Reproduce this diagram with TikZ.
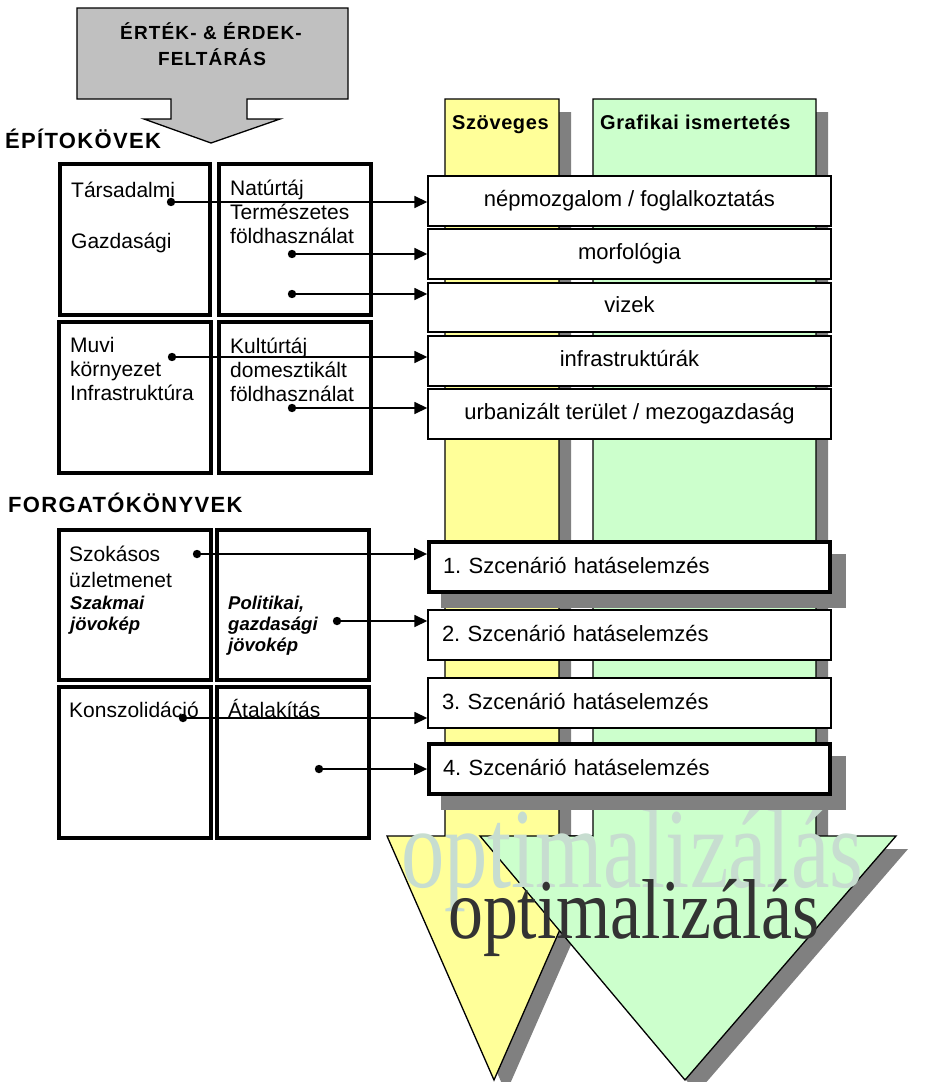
\documentclass[tikz,border=0pt]{standalone}
\usepackage{fontspec}
\setmainfont{Liberation Sans}
\newfontfamily\headfont{Liberation Sans}[LetterSpace=6]
\newfontfamily\colfont{Liberation Sans}[LetterSpace=3]
\newfontfamily\optfont{Liberation Serif}
\usetikzlibrary{arrows.meta}

\definecolor{colYellow}{HTML}{FFFF99}
\definecolor{colGreen}{HTML}{CCFFCC}
\definecolor{colShadow}{HTML}{808080}
\definecolor{colArrowGray}{HTML}{C0C0C0}
\definecolor{colOptLight}{HTML}{C7DDD0}
\definecolor{colOptDark}{HTML}{333333}

\begin{document}
\frenchspacing
\begin{tikzpicture}[x=1pt,y=-1pt,
  edgeline/.style={draw=black, line width=1.3pt, line join=miter},
  bigbox/.style={draw, line width=3.8pt, inner sep=0pt, minimum width=152pt, minimum height=151pt},
  infobox/.style={draw, fill=white, line width=1.4pt, minimum width=403pt, minimum height=50pt,
    inner sep=0pt, text height=15pt, text depth=5pt, font=\fontsize{22}{24}\selectfont},
  scenbox/.style={draw, fill=white, line width=1.4pt, minimum height=50pt, text width=375pt,
    inner xsep=14pt, inner ysep=0pt, align=left, text height=16pt, text depth=4pt,
    font=\fontsize{22}{24}\selectfont},
  scenbold/.style={scenbox, line width=3.8pt, text width=373pt},
  % multi-line labels are anchored at the baseline of their last line
  ltext/.style={anchor=base west, inner sep=0pt, align=left, font=\fontsize{21}{24}\selectfont},
  ltextbi/.style={anchor=base west, inner sep=0pt, align=left, font=\fontsize{18.5}{21}\selectfont\bfseries\itshape},
  heading/.style={anchor=base west, inner sep=0pt, font=\headfont\bfseries\fontsize{22}{24}\selectfont},
  colhead/.style={anchor=base west, inner sep=0pt, font=\colfont\bfseries\fontsize{20}{22}\selectfont},
  conn/.style={line width=1.6pt, -{Triangle[length=13pt,width=12pt]}},
]
\useasboundingbox (0,0) rectangle (934,1082);

% ---- yellow column with its arrow head ----
\fill[colShadow, shift={(12,13)}] (445,99) -- (559,99) -- (559,836) -- (601,836) -- (494,1080)
  -- (387,836) -- (445,836) -- cycle;
\path[edgeline, fill=colYellow] (445,99) -- (559,99) -- (559,836) -- (601,836) -- (494,1080)
  -- (387,836) -- (445,836) -- cycle;

% ---- green column with its arrow head ----
\fill[colShadow, shift={(12,13)}] (593,99) -- (816,99) -- (816,836) -- (896,836) -- (685,1080)
  -- (480,836) -- (593,836) -- cycle;
\path[edgeline, fill=colGreen] (593,99) -- (816,99) -- (816,836) -- (896,836) -- (685,1080)
  -- (480,836) -- (593,836) -- cycle;

\node[colhead] (hSz) at (452,129) {Szöveges};
\node[colhead] (hGr) at (600,129) {Grafikai ismertetés};

% ---- optimisation caption ----
\node[anchor=base west, inner sep=0pt, xscale=0.76, text=colOptLight,
  font=\optfont\fontsize{114}{114}\selectfont] (optA) at (401,887) {optimalizálás};
\node[anchor=base west, inner sep=0pt, xscale=0.82, text=colOptDark,
  font=\optfont\fontsize{85}{85}\selectfont] (optB) at (448,938) {optimalizálás};

% ---- top grey arrow ----
\path[edgeline, fill=colArrowGray] (77,8) -- (348,8) -- (348,99) -- (247,99) -- (247,119)
  -- (280,119) -- (211,143) -- (144,119) -- (171,119) -- (171,99) -- (77,99) -- cycle;
\node[anchor=base, inner sep=0pt, font=\headfont\bfseries\fontsize{19}{21}\selectfont] (tA) at (211,39) {ÉRTÉK- \& ÉRDEK-};
\node[anchor=base, inner sep=0pt, font=\headfont\bfseries\fontsize{19}{21}\selectfont] (tB) at (212,65) {FELTÁRÁS};

% ---- section headings ----
\node[heading] (hE) at (5,148) {ÉPÍTOKÖVEK};
\node[heading] (hF) at (8,512) {FORGATÓKÖNYVEK};

% ---- building blocks ----
\node[bigbox, minimum width=150pt] (bTL) at (135,239.5) {};
\node[bigbox] (bTR) at (295,239.5) {};
\node[bigbox] (bBL) at (135,397.5) {};
\node[bigbox] (bBR) at (295,397.5) {};

\node[ltext] (tTars) at (71,197) {Társadalmi};
\node[ltext] (tGazd) at (71,248) {Gazdasági};
\node[ltext] (tNat) at (230,243) {Natúrtáj\\Természetes\\földhasználat};
\node[ltext] (tMuvi) at (70,400) {Muvi\\környezet\\Infrastruktúra};
\node[ltext] (tKult) at (230,401) {Kultúrtáj\\domesztikált\\földhasználat};

% ---- scenario blocks ----
\node[bigbox, minimum height=150pt] (fTL) at (135,605) {};
\node[bigbox, minimum height=150pt] (fTR) at (293,605) {};
\node[bigbox] (fBL) at (135,762.5) {};
\node[bigbox] (fBR) at (293,762.5) {};

\node[ltext, font=\fontsize{21}{26}\selectfont] (tSzok) at (69,587) {Szokásos\\üzletmenet};
\node[ltextbi] (tSzak) at (70,630) {Szakmai\\jövokép};
\node[ltextbi] (tPol) at (228,651) {Politikai,\\gazdasági\\jövokép};
\node[ltext] (tKon) at (69,717) {Konszolidáció};
\node[ltext] (tAta) at (228,717) {Átalakítás};

% ---- map themes ----
\node[infobox] (r1) at (629.5,201) {népmozgalom / foglalkoztatás};
\node[infobox] (r2) at (629.5,254) {morfológia};
\node[infobox, minimum height=49pt] (r3) at (629.5,307.5) {vizek};
\node[infobox] (r4) at (629.5,361) {infrastruktúrák};
\node[infobox] (r5) at (629.5,414) {urbanizált terület / mezogazdaság};

% ---- scenario impact analyses ----
\fill[colShadow] (441,554) rectangle (846,608);
\fill[colShadow] (441,756) rectangle (846,810);
\node[scenbold] (s1) at (629.5,567) {1. Szcenárió hatáselemzés};
\node[scenbox] (s2) at (629.5,635) {2. Szcenárió hatáselemzés};
\node[scenbox] (s3) at (629.5,703) {3. Szcenárió hatáselemzés};
\node[scenbold] (s4) at (629.5,769) {4. Szcenárió hatáselemzés};

% ---- connectors ----
\coordinate (d1) at (171,202);
\coordinate (d2) at (292,254);
\coordinate (d3) at (292,294);
\coordinate (d4) at (172,357);
\coordinate (d5) at (292,408);
\coordinate (e1) at (197,554);
\coordinate (e2) at (337,621);
\coordinate (e3) at (183,718);
\coordinate (e4) at (319,769);

\foreach \p/\q in {d1/r1, d2/r2, d3/r3, d4/r4, d5/r5, e1/s1, e2/s2, e3/s3, e4/s4} {
  \fill (\p) circle (4.2pt);
  \draw[conn] (\p) -- (\p -| \q.west);
}
\end{tikzpicture}
\end{document}
